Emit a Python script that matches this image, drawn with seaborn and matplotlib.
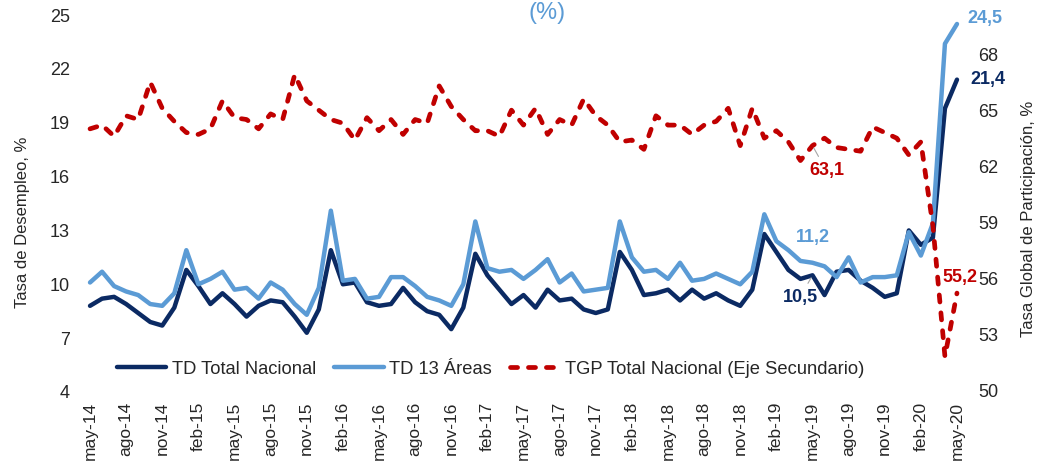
import pandas as pd
import matplotlib
matplotlib.use("Agg")
import matplotlib.pyplot as plt
import seaborn as sns

# Monthly series, may-14 .. may-20 (73 months)
td_nacional = [8.8, 9.2, 9.3, 8.9, 8.4, 7.9, 7.7, 8.7,
               10.8, 9.9, 8.9, 9.5, 8.9, 8.2, 8.8, 9.1, 9.0, 8.2, 7.3, 8.6,
               11.9, 10.0, 10.1, 9.0, 8.8, 8.9, 9.8, 9.0, 8.5, 8.3, 7.5, 8.7,
               11.7, 10.5, 9.7, 8.9, 9.4, 8.7, 9.7, 9.1, 9.2, 8.6, 8.4, 8.6,
               11.8, 10.8, 9.4, 9.5, 9.7, 9.1, 9.7, 9.2, 9.5, 9.1, 8.8, 9.7,
               12.8, 11.8, 10.8, 10.3, 10.5, 9.4, 10.7, 10.8, 10.2, 9.8, 9.3, 9.5,
               13.0, 12.2, 12.6, 19.8, 21.4]
td_13_areas = [10.1, 10.7, 9.9, 9.6, 9.4, 8.9, 8.8, 9.5,
               11.9, 10.0, 10.3, 10.7, 9.7, 9.8, 9.2, 10.1, 9.7, 8.9, 8.3, 9.8,
               14.1, 10.2, 10.3, 9.2, 9.3, 10.4, 10.4, 9.9, 9.3, 9.1, 8.8, 10.0,
               13.5, 10.9, 10.7, 10.8, 10.3, 10.8, 11.4, 10.1, 10.6, 9.6, 9.7, 9.8,
               13.5, 11.5, 10.7, 10.8, 10.3, 11.2, 10.2, 10.3, 10.6, 10.3, 10.0, 10.7,
               13.9, 12.4, 11.9, 11.3, 11.2, 11.0, 10.4, 11.5, 10.1, 10.4, 10.4, 10.5,
               12.9, 11.6, 13.4, 23.4, 24.5]
tgp_nacional = [64.0, 64.2, 63.6, 64.7, 64.5, 66.5, 65.1, 64.4,
                63.8, 63.7, 64.0, 65.5, 64.6, 64.5, 64.0, 64.8, 64.5, 66.9, 65.5, 65.0,
                64.5, 64.3, 63.4, 64.6, 63.9, 64.5, 63.7, 64.5, 64.3, 66.3, 65.2, 64.5,
                63.9, 63.9, 63.6, 65.0, 64.2, 65.1, 63.7, 64.5, 64.2, 65.6, 64.7, 64.2,
                63.3, 63.4, 62.9, 64.7, 64.2, 64.2, 63.7, 64.2, 64.4, 65.1, 63.1, 65.1,
                63.5, 63.9, 63.3, 62.3, 63.1, 63.5, 63.0, 62.9, 62.8, 64.1, 63.8, 63.5,
                62.6, 63.3, 58.8, 51.8, 55.2]
tick_labels = ["may-14", "ago-14", "nov-14", "feb-15", "may-15", "ago-15", "nov-15",
               "feb-16", "may-16", "ago-16", "nov-16", "feb-17", "may-17", "ago-17",
               "nov-17", "feb-18", "may-18", "ago-18", "nov-18", "feb-19", "may-19",
               "ago-19", "nov-19", "feb-20", "may-20"]
series_names = ["TD Total Nacional", "TD 13 Áreas", "TGP Total Nacional (Eje Secundario)"]

df = pd.DataFrame({"mes": range(len(td_nacional)),
                   "td_nac": td_nacional,
                   "td_13": td_13_areas,
                   "tgp": tgp_nacional})

navy = "#0b2a63"
light = "#5b9bd5"
red = "#c00000"

sns.set_style("white")
plt.rcParams["font.family"] = ["Liberation Sans", "DejaVu Sans"]

fig = plt.figure(figsize=(10.44, 4.72), dpi=100)
ax = fig.add_axes([84 / 1044, 80 / 472, 879 / 1044, 377 / 472])
ax2 = ax.twinx()

sns.lineplot(data=df, x="mes", y="td_nac", ax=ax, color=navy, lw=3.2, legend=False)
sns.lineplot(data=df, x="mes", y="td_13", ax=ax, color=light, lw=3.2, legend=False)
sns.lineplot(data=df, x="mes", y="tgp", ax=ax2, color=red, lw=3.4, legend=False)
for ln in ax.get_lines():
    ln.set_solid_joinstyle("round")
red_line = ax2.get_lines()[0]
red_line.set_dashes([1.5, 2.3])
red_line.set_dash_capstyle("round")

ax.set_xlim(-0.5, 72.5)
ax.set_ylim(4, 25)
ax.set_yticks(range(4, 26, 3))
ax2.set_ylim(49.9, 70.1)
ax2.set_yticks(range(50, 69, 3))
ax.set_xticks(range(0, 73, 3))
ax.set_xticklabels(tick_labels, rotation=90, fontsize=12.5)
ax.tick_params(axis="x", length=0, pad=7)
ax.tick_params(axis="y", length=0, pad=10, labelsize=13)
ax2.tick_params(axis="y", length=0, pad=11, labelsize=13)
for a in (ax, ax2):
    for s in a.spines.values():
        s.set_visible(False)
    a.grid(False)

ax.set_xlabel("")
ax.set_ylabel("Tasa de Desempleo, %", fontsize=12)
ax2.set_ylabel("Tasa Global de Participación, %", fontsize=12)
ax.yaxis.set_label_coords(-0.062, 0.45)
ax2.yaxis.set_label_coords(1.066, 0.46)

# data labels
lab = dict(textcoords="offset points", ha="center", va="center",
           fontsize=13, fontweight="bold")
last = len(td_nacional) - 1
ax.annotate("24,5", xy=(last, td_13_areas[-1]), xytext=(20, 4), color=light, **lab)
ax.annotate("21,4", xy=(last, td_nacional[-1]), xytext=(22, 0), color=navy, **lab)
ax.annotate("11,2", xy=(60, td_13_areas[60]), xytext=(0, 18), color=light, **lab)
ax.annotate("10,5", xy=(60, td_nacional[60]), xytext=(-9, -16), color=navy,
            arrowprops=dict(arrowstyle="-", color="#a6a6a6", lw=0.8), **lab)
ax2.annotate("63,1", xy=(60, tgp_nacional[60]), xytext=(10, -18), color=red,
             arrowprops=dict(arrowstyle="-", color="#a6a6a6", lw=0.8), **lab)
ax2.annotate("55,2", xy=(last, tgp_nacional[-1]), xytext=(2, 11), color=red, **lab)

handles = ax.get_lines()[:2] + [red_line]
fig.legend(handles, series_names, loc="center", bbox_to_anchor=(0.47, 0.218),
           ncol=3, frameon=False, fontsize=13.2, handlelength=2.7,
           columnspacing=1.0, handletextpad=0.3)

fig.text(547 / 1044, 1 - 19 / 472, "(%)", ha="center", va="baseline",
         fontsize=17, color=light)

fig.savefig("out.png", dpi=100)
